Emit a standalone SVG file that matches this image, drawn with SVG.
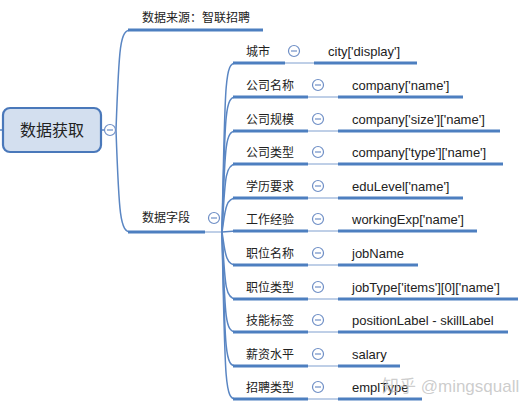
<svg xmlns="http://www.w3.org/2000/svg" width="523" height="409" viewBox="0 0 523 409">
<style>
.t{font-family:"Noto Sans CJK SC","Liberation Sans",sans-serif;fill:#222;}
.lb{font-size:12px;}
.v{font-family:"Liberation Sans","Noto Sans CJK SC",sans-serif;font-size:13px;fill:#222;}
.ul{stroke:#4d7fc0;stroke-width:3;fill:none;}
.cv{stroke:#5a86c3;stroke-width:1.5;fill:none;}
.th{stroke:#7f9fcf;stroke-width:1;fill:none;}
.cb circle{fill:#fff;stroke:#6f8fc6;stroke-width:1.2;}
.cb line{stroke:#6f8fc6;stroke-width:1.2;}
</style>
<defs>
<g id="col" class="cb"><circle cx="0" cy="0" r="5.5"/><line x1="-3" y1="0" x2="3" y2="0"/></g>
</defs>
<rect width="523" height="409" fill="#fff"/>
<g id="connectors">
<line x1="0" y1="130" x2="4" y2="130" class="cv"/>
<line x1="101" y1="130" x2="105" y2="130" class="cv"/>
<path d="M116,130 C119,45 120,30 131,30" class="cv"/>
<path d="M116,130 C119,215 120,232 131,232" class="cv"/>
<line x1="205" y1="232" x2="222" y2="232" class="th"/>
<path d="M222,232 C225,78 225,63 236,63" class="cv"/>
<path d="M222,232 C225,112 225,97 236,97" class="cv"/>
<path d="M222,232 C225,146 225,131 236,131" class="cv"/>
<path d="M222,232 C225,179 225,164 236,164" class="cv"/>
<path d="M222,232 C225,213 225,198 236,198" class="cv"/>
<path d="M222,232 L236,231" class="cv"/>
<path d="M222,232 C225,250 225,265 236,265" class="cv"/>
<path d="M222,232 C225,284 225,299 236,299" class="cv"/>
<path d="M222,232 C225,317 225,332 236,332" class="cv"/>
<path d="M222,232 C225,351 225,366 236,366" class="cv"/>
<path d="M222,232 C225,384 225,399 236,399" class="cv"/>
</g>
<g id="root">
<rect x="3" y="108" width="98" height="44" rx="7" fill="#d3dfef" stroke="#4a78ba" stroke-width="2.2"/>
<text x="52" y="136" text-anchor="middle" class="t" font-size="16" fill="#2a3a55">数据获取</text>
<use href="#col" x="110" y="130"/>
</g>
<g id="source">
<line x1="128" y1="30" x2="263" y2="30" class="ul"/>
<text x="142" y="22" class="t lb">数据来源：智联招聘</text>
</g>
<g id="fields">
<line x1="128" y1="232" x2="205" y2="232" class="ul"/>
<text x="142" y="222" class="t lb">数据字段</text>
<use href="#col" x="214" y="218"/>
</g>
<g id="n0"><line x1="233" y1="63" x2="285" y2="63" class="ul"/><line x1="285" y1="63" x2="314" y2="63" class="th"/><line x1="314" y1="63" x2="417" y2="63" class="ul"/><text x="246" y="55.5" class="t lb">城市</text><use href="#col" x="294" y="51"/><text x="328" y="56" class="v">city['display']</text></g>
<g id="n1"><line x1="233" y1="97" x2="308" y2="97" class="ul"/><line x1="308" y1="97" x2="338" y2="97" class="th"/><line x1="338" y1="97" x2="463" y2="97" class="ul"/><text x="246" y="89.5" class="t lb">公司名称</text><use href="#col" x="318" y="85"/><text x="352" y="90" class="v">company['name']</text></g>
<g id="n2"><line x1="233" y1="131" x2="308" y2="131" class="ul"/><line x1="308" y1="131" x2="338" y2="131" class="th"/><line x1="338" y1="131" x2="500" y2="131" class="ul"/><text x="246" y="123.5" class="t lb">公司规模</text><use href="#col" x="318" y="119"/><text x="352" y="124" class="v">company['size']['name']</text></g>
<g id="n3"><line x1="233" y1="164" x2="308" y2="164" class="ul"/><line x1="308" y1="164" x2="338" y2="164" class="th"/><line x1="338" y1="164" x2="503" y2="164" class="ul"/><text x="246" y="156.5" class="t lb">公司类型</text><use href="#col" x="318" y="152"/><text x="352" y="157" class="v">company['type']['name']</text></g>
<g id="n4"><line x1="233" y1="198" x2="308" y2="198" class="ul"/><line x1="308" y1="198" x2="338" y2="198" class="th"/><line x1="338" y1="198" x2="463" y2="198" class="ul"/><text x="246" y="190.5" class="t lb">学历要求</text><use href="#col" x="318" y="186"/><text x="352" y="191" class="v">eduLevel['name']</text></g>
<g id="n5"><line x1="233" y1="231" x2="308" y2="231" class="ul"/><line x1="308" y1="231" x2="338" y2="231" class="th"/><line x1="338" y1="231" x2="477" y2="231" class="ul"/><text x="246" y="223.5" class="t lb">工作经验</text><use href="#col" x="318" y="219"/><text x="352" y="224" class="v">workingExp['name']</text></g>
<g id="n6"><line x1="233" y1="265" x2="308" y2="265" class="ul"/><line x1="308" y1="265" x2="338" y2="265" class="th"/><line x1="338" y1="265" x2="418" y2="265" class="ul"/><text x="246" y="257.5" class="t lb">职位名称</text><use href="#col" x="318" y="253"/><text x="352" y="258" class="v">jobName</text></g>
<g id="n7"><line x1="233" y1="299" x2="308" y2="299" class="ul"/><line x1="308" y1="299" x2="338" y2="299" class="th"/><line x1="338" y1="299" x2="518" y2="299" class="ul"/><text x="246" y="291.5" class="t lb">职位类型</text><use href="#col" x="318" y="287"/><text x="352" y="292" class="v">jobType['items'][0]['name']</text></g>
<g id="n8"><line x1="233" y1="332" x2="308" y2="332" class="ul"/><line x1="308" y1="332" x2="338" y2="332" class="th"/><line x1="338" y1="332" x2="508" y2="332" class="ul"/><text x="246" y="324.5" class="t lb">技能标签</text><use href="#col" x="318" y="320"/><text x="352" y="325" class="v">positionLabel - skillLabel</text></g>
<g id="n9"><line x1="233" y1="366" x2="308" y2="366" class="ul"/><line x1="308" y1="366" x2="338" y2="366" class="th"/><line x1="338" y1="366" x2="400" y2="366" class="ul"/><text x="246" y="358.5" class="t lb">薪资水平</text><use href="#col" x="318" y="354"/><text x="352" y="359" class="v">salary</text></g>
<g id="n10"><line x1="233" y1="399" x2="308" y2="399" class="ul"/><line x1="308" y1="399" x2="338" y2="399" class="th"/><line x1="338" y1="399" x2="422" y2="399" class="ul"/><text x="246" y="391.5" class="t lb">招聘类型</text><use href="#col" x="318" y="387"/><text x="352" y="392" class="v">emplType</text></g>
<text x="382" y="392" font-family="Liberation Sans,Noto Sans CJK SC,sans-serif" font-size="17" fill="#bfbfbf" fill-opacity="0.8">知乎 @mingsquall</text>
</svg>
